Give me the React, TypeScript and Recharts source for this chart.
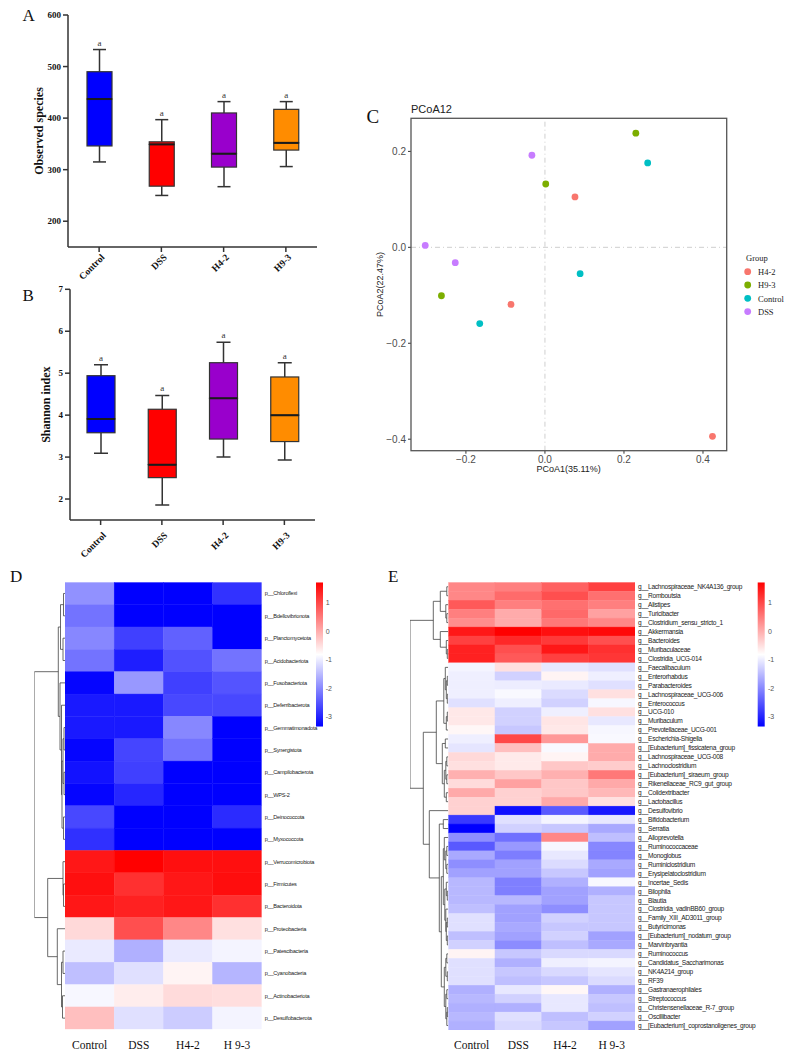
import React from 'react';
import {
  ComposedChart,
  ScatterChart,
  Bar,
  Cell,
  Scatter,
  XAxis,
  YAxis,
  LabelList,
  ReferenceLine,
} from 'recharts';

const serif = '"Liberation Serif", "Times New Roman", serif';
const sans = '"Liberation Sans", Arial, sans-serif';
const narrow = '"Liberation Sans Narrow", "Liberation Sans", Arial, sans-serif';
const ink = '#333';

// ---- A / B box plots ----
const groups = ['Control', 'DSS', 'H4-2', 'H9-3'];
const groupColors = ['#0000FF', '#FF0000', '#9900CC', '#FF8C00'];
const sigLetters = ['a', 'a', 'a', 'a'];

const obsMin = [315, 250, 267, 306];
const obsQ1 = [346, 268, 305, 338];
const obsMedian = [437, 349, 331, 352];
const obsQ3 = [490, 354, 410, 417];
const obsMax = [533, 397, 432, 432];
const obsTicks = [200, 300, 400, 500, 600];

const shanMin = [3.09, 1.86, 3.0, 2.93];
const shanQ1 = [3.58, 2.51, 3.43, 3.37];
const shanMedian = [3.91, 2.82, 4.4, 4.0];
const shanQ3 = [4.94, 4.14, 5.25, 4.91];
const shanMax = [5.2, 4.47, 5.74, 5.25];
const shanTicks = [2, 3, 4, 5, 6, 7];

// ---- C PCoA ----
const pcoaGroups = ['H4-2', 'H9-3', 'Control', 'DSS'];
const pcoaColors = ['#F8766D', '#7CAE00', '#00BFC4', '#C77CFF'];
const h42PC1 = [0.076, -0.086, 0.424];
const h42PC2 = [0.105, -0.119, -0.394];
const h93PC1 = [0.23, 0.002, -0.262];
const h93PC2 = [0.238, 0.132, -0.101];
const ctrlPC1 = [0.26, 0.089, -0.165];
const ctrlPC2 = [0.176, -0.055, -0.159];
const dssPC1 = [-0.033, -0.303, -0.227];
const dssPC2 = [0.192, 0.004, -0.032];
const pcoaX = [h42PC1, h93PC1, ctrlPC1, dssPC1];
const pcoaY = [h42PC2, h93PC2, ctrlPC2, dssPC2];
const pc1Ticks = [-0.2, 0, 0.2, 0.4];
const pc2Ticks = [-0.4, -0.2, 0, 0.2];
const pc1Range = [-0.339, 0.46];
const pc2Range = [-0.424, 0.269];

// ---- D / E heatmaps ----
const heatCols = ['Control', 'DSS', 'H4-2', 'H 9-3'];
const zMin = -3.34;
const zMid = -0.815;
const zMax = 1.71;
const colorTicks = [-3, -2, -1, 0, 1];

const phylumNames = [
  'p__Chloroflexi', 'p__Bdellovibrionota', 'p__Planctomycetota', 'p__Acidobacteriota',
  'p__Fusobacteriota', 'p__Deferribacterota', 'p__Gemmatimonadota', 'p__Synergistota',
  'p__Campilobacterota', 'p__WPS-2', 'p__Deinococcota', 'p__Myxococcota',
  'p__Verrucomicrobiota', 'p__Firmicutes', 'p__Bacteroidota', 'p__Proteobacteria',
  'p__Patescibacteria', 'p__Cyanobacteria', 'p__Actinobacteriota', 'p__Desulfobacterota',
];
const phylumZ = [
  [-1.9, -3.34, -3.34, -2.84],
  [-2.2, -3.34, -3.34, -3.34],
  [-2.0, -2.71, -2.38, -3.34],
  [-2.2, -3.04, -2.53, -2.2],
  [-3.29, -1.83, -2.71, -2.51],
  [-3.09, -3.09, -2.63, -2.63],
  [-3.09, -3.09, -2.0, -3.34],
  [-3.29, -2.66, -2.2, -3.34],
  [-3.16, -2.71, -3.34, -3.34],
  [-3.29, -2.96, -3.34, -3.34],
  [-2.63, -3.34, -3.34, -2.91],
  [-2.86, -3.34, -3.34, -3.34],
  [1.48, 1.71, 1.56, 1.56],
  [1.56, 1.23, 1.48, 1.58],
  [1.48, 1.38, 1.48, 1.23],
  [-0.44, 0.93, 0.37, -0.51],
  [-1.02, -1.6, -1.02, -0.92],
  [-1.45, -1.12, -0.71, -1.55],
  [-0.89, -0.64, -0.46, -0.49],
  [-0.18, -1.12, -1.32, -0.92],
];
// hclust-style merges: [left, right, height]; negative = row (1-based), positive = earlier merge
const phylumTree = [
  [-1, -2, 1.5], [-3, -4, 2.0], [1, 2, 4.5], [-7, -8, 1.0], [-9, -10, 1.0],
  [4, 5, 2.0], [-11, -12, 1.5], [6, 7, 3.0], [-6, 8, 3.5], [-5, 9, 5.0],
  [3, 10, 6.7], [-14, -15, 1.5], [-13, 12, 2.0], [-17, -18, 2.0], [-19, -20, 2.5],
  [14, 15, 3.5], [-16, 16, 7.7], [13, 17, 17.3], [11, 18, 30.7],
];

const genusNames = [
  'g__Lachnospiraceae_NK4A136_group', 'g__Romboutsia', 'g__Alistipes', 'g__Turicibacter',
  'g__Clostridium_sensu_stricto_1', 'g__Akkermansia', 'g__Bacteroides', 'g__Muribaculaceae',
  'g__Clostridia_UCG-014', 'g__Faecalibaculum', 'g__Enterorhabdus', 'g__Parabacteroides',
  'g__Lachnospiraceae_UCG-006', 'g__Enterococcus', 'g__UCG-010', 'g__Muribaculum',
  'g__Prevotellaceae_UCG-001', 'g__Escherichia-Shigella', 'g__[Eubacterium]_fissicatena_group',
  'g__Lachnospiraceae_UCG-008', 'g__Lachnoclostridium', 'g__[Eubacterium]_siraeum_group',
  'g__Rikenellaceae_RC9_gut_group', 'g__Colidextribacter', 'g__Lactobacillus', 'g__Desulfovibrio',
  'g__Bifidobacterium', 'g__Serratia', 'g__Alloprevotella', 'g__Ruminococcaceae', 'g__Monoglobus',
  'g__Ruminiclostridium', 'g__Erysipelatoclostridium', 'g__Incertae_Sedis', 'g__Bilophila',
  'g__Blautia', 'g__Clostridia_vadinBB60_group', 'g__Family_XIII_AD3011_group', 'g__Butyricimonas',
  'g__[Eubacterium]_nodatum_group', 'g__Marvinbryantia', 'g__Ruminococcus',
  'g__Candidatus_Saccharimonas', 'g__NK4A214_group', 'g__RF39', 'g__Gastranaerophilales',
  'g__Streptococcus', 'g__Christensenellaceae_R-7_group', 'g__Oscillibacter',
  'g__[Eubacterium]_coprostanoligenes_group',
];
const genusZ = [
  [0.37, 0.45, 0.75, 1.08],
  [0.37, 0.65, 0.93, 0.6],
  [0.83, 0.45, 0.6, 0.45],
  [0.45, 0.02, 0.67, 0.12],
  [0.3, 0.02, 0.52, 0.37],
  [1.48, 1.71, 1.56, 1.63],
  [1.08, 1.31, 1.15, 0.93],
  [1.38, 0.93, 1.48, 1.23],
  [1.38, 0.83, 1.08, 1.18],
  [-0.92, -0.51, -1.04, -1.12],
  [-0.97, -1.27, -0.71, -0.97],
  [-0.97, -0.99, -1.02, -1.12],
  [-0.97, -0.87, -1.17, -0.51],
  [-1.12, -0.97, -1.27, -0.89],
  [-0.59, -1.27, -0.97, -0.51],
  [-0.59, -1.27, -0.56, -1.04],
  [-0.74, -1.37, -0.59, -0.89],
  [-0.97, 1.0, 0.2, -0.87],
  [-1.07, -0.18, -0.87, 0.02],
  [-0.44, -0.61, -0.71, 0.02],
  [-0.51, -0.61, -0.26, -0.31],
  [-0.03, -0.26, -0.03, 0.52],
  [-0.46, 0.12, -0.26, 0.04],
  [0.04, -0.36, -0.26, -0.11],
  [-0.36, -0.36, 0.04, -0.51],
  [-0.36, -3.19, -2.46, -3.11],
  [-2.78, -1.12, -0.92, -1.04],
  [-3.34, -1.27, -1.37, -1.67],
  [-1.93, -2.23, 0.37, -1.45],
  [-2.46, -1.83, -0.89, -2.0],
  [-1.67, -2.1, -1.04, -2.03],
  [-1.93, -1.75, -1.17, -1.67],
  [-1.75, -1.75, -1.37, -1.75],
  [-1.52, -2.08, -1.6, -0.89],
  [-1.52, -2.08, -1.75, -1.6],
  [-1.52, -1.52, -1.75, -1.37],
  [-1.45, -1.75, -1.93, -1.37],
  [-1.12, -1.75, -1.27, -1.37],
  [-1.12, -1.67, -1.37, -1.37],
  [-1.45, -1.75, -1.27, -1.75],
  [-1.27, -1.95, -1.45, -1.67],
  [-0.71, -1.37, -1.19, -1.19],
  [-1.12, -1.6, -0.97, -0.92],
  [-1.12, -1.37, -1.19, -1.07],
  [-1.12, -1.45, -1.37, -1.17],
  [-1.6, -1.04, -0.74, -1.6],
  [-1.52, -1.27, -1.04, -1.37],
  [-1.6, -1.6, -1.04, -1.45],
  [-1.52, -1.12, -1.45, -1.27],
  [-1.6, -1.19, -1.37, -1.75],
];
const genusTree = [
  [-1, -2, 1.5], [-4, -5, 1.5], [-3, 2, 2.5], [1, 3, 8], [-8, -9, 1.0],
  [-7, 5, 2.0], [-6, 6, 8], [4, 7, 15], [-11, -12, 1.0], [-13, -14, 1.0],
  [9, 10, 2.0], [-10, 11, 3.0], [-15, -16, 1.0], [13, -17, 2.0], [12, 14, 4.5],
  [-18, -19, 3.0], [-20, -21, 1.5], [-22, -23, 1.5], [17, 18, 2.5], [-24, -25, 2.0],
  [19, 20, 4.0], [16, 21, 6.0], [15, 22, 12], [-27, -28, 5], [-30, -31, 1.5],
  [-32, -33, 1.5], [25, 26, 2.5], [-29, 27, 4], [-35, -36, 1.0], [-34, 29, 2.0],
  [-38, -39, 1.0], [-40, -41, 1.0], [31, 32, 2.0], [-37, 33, 2.5], [30, 34, 3.5],
  [28, 35, 5], [-42, -43, 1.5], [-44, -45, 1.0], [37, 38, 2.5], [-46, -47, 1.5],
  [-48, -49, 1.0], [41, -50, 1.5], [40, 42, 2.5], [39, 43, 4], [36, 44, 7],
  [24, 45, 9], [-26, 46, 19], [23, 47, 25], [8, 48, 38.3],
];

function zColor(v: number) {
  if (v <= zMid) {
    const t = Math.max(0, Math.min(1, (v - zMin) / (zMid - zMin)));
    const c = Math.round(255 * t);
    return `rgb(${c},${c},255)`;
  }
  const t = Math.max(0, Math.min(1, (v - zMid) / (zMax - zMid)));
  const c = Math.round(255 * (1 - t));
  return `rgb(255,${c},${c})`;
}

// each merge becomes one bracket: child1 -> join height -> child2
function treeBrackets(merges: number[][]) {
  const nodes: { h: number; y: number }[] = [];
  const at = (id: number) => (id < 0 ? { h: 0, y: -id - 0.5 } : nodes[id - 1]);
  return merges.map(([a, b, h]) => {
    const A = at(a);
    const B = at(b);
    nodes.push({ h, y: (A.y + B.y) / 2 });
    return [
      { h: A.h, y: A.y },
      { h, y: A.y },
      { h, y: B.y },
      { h: B.h, y: B.y },
    ];
  });
}

const noMark = () => <g />;

const whisker = (cap: number, atTop: boolean) => (p: any) => {
  const cx = p.x + p.width / 2;
  const yEnd = atTop ? p.y : p.y + p.height;
  return (
    <g>
      <line x1={cx} x2={cx} y1={p.y} y2={p.y + p.height} stroke={ink} strokeWidth={1.5} />
      <line x1={cx - cap / 2} x2={cx + cap / 2} y1={yEnd} y2={yEnd} stroke={ink} strokeWidth={1.5} />
    </g>
  );
};

const boxPart = (withMedian: boolean) => (p: any) => (
  <g>
    <rect x={p.x} y={p.y} width={p.width} height={p.height} fill={p.fill} stroke={ink} strokeWidth={1.2} />
    {withMedian && (
      <line x1={p.x} x2={p.x + p.width} y1={p.y + p.height} y2={p.y + p.height} stroke="#1a1a1a" strokeWidth={2} />
    )}
  </g>
);

function BoxPanel(props: any) {
  const {
    top, height, mins, q1s, meds, q3s, maxs, domain, ticks, title, titleX,
    plotTop, plotLeft, plotRight, xAxisHeight, boxWidth, capWidth, tickDy,
  } = props;
  const width = 330;
  const yAxisW = 40;
  const data = groups.map((g, i) => ({
    name: g,
    base: mins[i],
    lowW: q1s[i] - mins[i],
    lowBox: meds[i] - q1s[i],
    highBox: q3s[i] - meds[i],
    highW: maxs[i] - q3s[i],
    sig: sigLetters[i],
  }));
  const midY = plotTop + (height - plotTop - xAxisHeight) / 2;
  const SlantTick = (p: any) => (
    <text
      x={p.x + 6}
      y={p.y + tickDy}
      textAnchor="end"
      transform={`rotate(-45 ${p.x + 6} ${p.y + tickDy})`}
      fontFamily={serif}
      fontWeight="bold"
      fontSize={9.5}
      fill="#111"
    >
      {p.payload.value}
    </text>
  );
  return (
    <div style={{ position: 'absolute', left: 0, top }}>
      <ComposedChart
        width={width}
        height={height}
        data={data}
        barSize={boxWidth}
        margin={{ top: plotTop, right: width - plotRight, bottom: 0, left: plotLeft - yAxisW }}
      >
        <XAxis
          dataKey="name"
          interval={0}
          tickSize={5}
          height={xAxisHeight}
          axisLine={{ stroke: ink, strokeWidth: 1.5 }}
          tickLine={{ stroke: ink, strokeWidth: 1.5 }}
          tick={SlantTick}
        />
        <YAxis
          type="number"
          domain={domain}
          ticks={ticks}
          allowDataOverflow
          width={yAxisW}
          tickSize={5}
          axisLine={{ stroke: ink, strokeWidth: 1.5 }}
          tickLine={{ stroke: ink, strokeWidth: 1.5 }}
          tick={{ fontFamily: serif, fontWeight: 'bold', fontSize: 9, fill: '#111' }}
          label={() => (
            <text
              x={titleX}
              y={midY}
              dy="0.35em"
              textAnchor="middle"
              transform={`rotate(-90 ${titleX} ${midY})`}
              fontFamily={serif}
              fontWeight="bold"
              fontSize={12}
              fill="#111"
            >
              {title}
            </text>
          )}
        />
        <Bar dataKey="base" stackId="box" fill="transparent" isAnimationActive={false} />
        <Bar dataKey="lowW" stackId="box" shape={whisker(capWidth, false)} isAnimationActive={false} />
        <Bar dataKey="lowBox" stackId="box" shape={boxPart(false)} isAnimationActive={false}>
          {groups.map((g, i) => (
            <Cell key={g} fill={groupColors[i]} />
          ))}
        </Bar>
        <Bar dataKey="highBox" stackId="box" shape={boxPart(true)} isAnimationActive={false}>
          {groups.map((g, i) => (
            <Cell key={g} fill={groupColors[i]} />
          ))}
        </Bar>
        <Bar dataKey="highW" stackId="box" shape={whisker(capWidth, true)} isAnimationActive={false}>
          <LabelList dataKey="sig" position="top" offset={4} fill="#333" fontFamily={serif} fontSize={9} />
        </Bar>
      </ComposedChart>
    </div>
  );
}

function Dendrogram({ left, top, width, height, margin, merges, n }: any) {
  const maxH = merges[merges.length - 1][2];
  const brackets = treeBrackets(merges);
  return (
    <div style={{ position: 'absolute', left, top }}>
      <ScatterChart width={width} height={height} margin={margin}>
        <XAxis type="number" dataKey="h" domain={[0, maxH]} reversed hide allowDataOverflow />
        <YAxis type="number" dataKey="y" domain={[0, n]} reversed hide allowDataOverflow />
        {brackets.map((pts, k) => (
          <Scatter
            key={k}
            data={pts}
            line={{ stroke: '#444', strokeWidth: 0.8 }}
            lineType="joint"
            shape={noMark}
            isAnimationActive={false}
          />
        ))}
      </ScatterChart>
    </div>
  );
}

function Heatmap(props: any) {
  const {
    left, top, width, height, margin, names, values, labelSize, labelSpacing,
    yAxisWidth, xAxisHeight, colMargin,
  } = props;
  const n = names.length;
  const rowTicks = names.map((_: string, i: number) => i + 0.5);
  const colTicks = heatCols.map((_, j) => j + 0.5);
  const cells = values.flatMap((row: number[], i: number) =>
    row.map((v, j) => ({ x: j + 0.5, y: i + 0.5, z: v })),
  );
  const cellW = (width - margin.left - margin.right - yAxisWidth) / heatCols.length;
  const cellH = (height - margin.top - margin.bottom - xAxisHeight) / n;
  const cellShape = (p: any) => (
    <rect
      x={p.cx - cellW / 2}
      y={p.cy - cellH / 2}
      width={cellW}
      height={cellH}
      fill={p.fill}
      stroke={p.fill}
      strokeWidth={0.4}
    />
  );
  return (
    <div style={{ position: 'absolute', left, top }}>
      <ScatterChart width={width} height={height} margin={margin}>
        <XAxis
          type="number"
          dataKey="x"
          domain={[0, 4]}
          ticks={colTicks}
          interval={0}
          allowDataOverflow
          height={xAxisHeight}
          axisLine={false}
          tickLine={false}
          tickSize={0}
          tickMargin={colMargin}
          tickFormatter={(v: number) => heatCols[Math.floor(v)]}
          tick={{ fontFamily: serif, fontSize: 11.5, fill: '#111' }}
        />
        <YAxis
          type="number"
          dataKey="y"
          orientation="right"
          domain={[0, n]}
          reversed
          ticks={rowTicks}
          interval={0}
          allowDataOverflow
          width={yAxisWidth}
          axisLine={false}
          tickLine={false}
          tickSize={0}
          tickMargin={3}
          tickFormatter={(v: number) => names[Math.floor(v)]}
          tick={{ fontFamily: narrow, fontSize: labelSize, fill: '#222', letterSpacing: labelSpacing }}
        />
        <Scatter data={cells} shape={cellShape} isAnimationActive={false}>
          {cells.map((c: any, k: number) => (
            <Cell key={k} fill={zColor(c.z)} />
          ))}
        </Scatter>
      </ScatterChart>
    </div>
  );
}

function ColorBar({ left, top, width, height, margin, id, yAxisWidth }: any) {
  const midOffset = ((zMid - zMin) / (zMax - zMin)) * 100;
  const data = [{ name: 'z', range: [zMin, zMax] }];
  const barShape = (p: any) => (
    <g>
      <defs>
        <linearGradient id={id} x1="0" y1="1" x2="0" y2="0">
          <stop offset="0%" stopColor="#0000FF" />
          <stop offset={`${midOffset}%`} stopColor="#FFFFFF" />
          <stop offset="100%" stopColor="#FF0000" />
        </linearGradient>
      </defs>
      <rect x={p.x} y={p.y} width={p.width} height={p.height} fill={`url(#${id})`} />
    </g>
  );
  return (
    <div style={{ position: 'absolute', left, top }}>
      <ComposedChart width={width} height={height} margin={margin} data={data} barCategoryGap={0}>
        <XAxis dataKey="name" hide />
        <YAxis
          type="number"
          orientation="right"
          domain={[zMin, zMax]}
          ticks={colorTicks}
          interval={0}
          allowDataOverflow
          width={yAxisWidth}
          axisLine={false}
          tickLine={false}
          tickSize={0}
          tickMargin={3}
          tick={{ fontFamily: sans, fontSize: 7, fill: '#555' }}
        />
        <Bar dataKey="range" shape={barShape} isAnimationActive={false} />
      </ComposedChart>
    </div>
  );
}

const fmtPc = (v: number) => (v === 0 ? '0.0' : v < 0 ? `\u2212${Math.abs(v).toFixed(1)}` : v.toFixed(1));

const PCOA_LEFT = 330;
const PCOA_TOP = 90;
const PCOA_MARGIN = { top: 28.3, right: 3.3, bottom: 9.3, left: 51 };

function PcoaPanel() {
  return (
    <div style={{ position: 'absolute', left: PCOA_LEFT, top: PCOA_TOP }}>
      <ScatterChart width={400} height={400} margin={PCOA_MARGIN}>
        <XAxis
          type="number"
          dataKey="x"
          domain={pc1Range}
          ticks={pc1Ticks}
          height={30}
          axisLine={false}
          tickLine={{ stroke: '#333333' }}
          tickSize={3}
          tickMargin={2}
          tickFormatter={fmtPc}
          tick={{ fontFamily: sans, fontSize: 10, fill: '#4d4d4d' }}
          label={() => (
            <text x={238.6} y={379} dy="0.35em" textAnchor="middle" fontFamily={sans} fontSize={9} fill="#222">
              PCoA1(35.11%)
            </text>
          )}
        />
        <YAxis
          type="number"
          dataKey="y"
          domain={pc2Range}
          ticks={pc2Ticks}
          width={30}
          axisLine={false}
          tickLine={{ stroke: '#333333' }}
          tickSize={3}
          tickMargin={2}
          tickFormatter={fmtPc}
          tick={{ fontFamily: sans, fontSize: 10, fill: '#4d4d4d' }}
          label={() => (
            <text
              x={49.5}
              y={194.5}
              dy="0.35em"
              textAnchor="middle"
              transform="rotate(-90 49.5 194.5)"
              fontFamily={sans}
              fontSize={9}
              fill="#222"
            >
              PCoA2(22.47%)
            </text>
          )}
        />
        <ReferenceLine x={0} stroke="#cfcfcf" strokeWidth={1} strokeDasharray="5 3 1 3" />
        <ReferenceLine y={0} stroke="#cfcfcf" strokeWidth={1} strokeDasharray="5 3 1 3" />
        {pcoaGroups.map((g, k) => (
          <Scatter
            key={g}
            name={g}
            data={pcoaX[k].map((x, i) => ({ x, y: pcoaY[k][i] }))}
            fill={pcoaColors[k]}
            isAnimationActive={false}
            shape={(p: any) => <circle cx={p.cx} cy={p.cy} r={3.4} fill={pcoaColors[k]} />}
          />
        ))}
      </ScatterChart>
    </div>
  );
}

function Overlay() {
  // PCoA panel border follows the chart's plot area (container offset + margins)
  const fx = PCOA_LEFT + PCOA_MARGIN.left + 30;
  const fy = PCOA_TOP + PCOA_MARGIN.top;
  const fw = 400 - PCOA_MARGIN.left - 30 - PCOA_MARGIN.right;
  const fh = 400 - PCOA_MARGIN.top - PCOA_MARGIN.bottom - 30;
  return (
    <svg width={790} height={1058} style={{ position: 'absolute', left: 0, top: 0, pointerEvents: 'none' }}>
      <rect x={fx} y={fy} width={fw} height={fh} fill="none" stroke="#555" strokeWidth={1.3} />
      <g fontFamily={serif} fill="#111">
        <text x={22.5} y={20.7} fontSize={17}>A</text>
        <text x={22.5} y={300.7} fontSize={17}>B</text>
        <text x={366.5} y={123.3} fontSize={19}>C</text>
        <text x={10} y={581.7} fontSize={17}>D</text>
        <text x={388} y={581.7} fontSize={17}>E</text>
      </g>
      <text x={411} y={112.7} fontFamily={sans} fontSize={11} fill="#222">PCoA12</text>
      <text x={746} y={261} fontFamily={serif} fontSize={8.5} fill="#222">Group</text>
      {pcoaGroups.map((g, k) => {
        const cy = 271.7 + k * 13.3;
        return (
          <g key={g}>
            <circle cx={747.7} cy={cy} r={3.4} fill={pcoaColors[k]} />
            <text x={758} y={cy + 3.2} fontFamily={serif} fontSize={8.5} fill="#222">{g}</text>
          </g>
        );
      })}
    </svg>
  );
}

export default function App() {
  return (
    <div style={{ position: 'absolute', left: 0, top: 0, width: 790, height: 1058, background: '#fff', overflow: 'hidden' }}>
      <BoxPanel
        top={0}
        height={290}
        mins={obsMin}
        q1s={obsQ1}
        meds={obsMedian}
        q3s={obsQ3}
        maxs={obsMax}
        domain={[150, 600]}
        ticks={obsTicks}
        title="Observed species"
        titleX={39}
        plotTop={15}
        plotLeft={68}
        plotRight={317}
        xAxisHeight={43}
        boxWidth={25}
        capWidth={13}
        tickDy={4}
      />
      <BoxPanel
        top={270}
        height={300}
        mins={shanMin}
        q1s={shanQ1}
        meds={shanMedian}
        q3s={shanQ3}
        maxs={shanMax}
        domain={[1.5, 7]}
        ticks={shanTicks}
        title="Shannon index"
        titleX={46}
        plotTop={19.3}
        plotLeft={70}
        plotRight={315}
        xAxisHeight={50}
        boxWidth={28}
        capWidth={14}
        tickDy={9}
      />
      <PcoaPanel />
      <Dendrogram
        left={30}
        top={572}
        width={40}
        height={484}
        margin={{ top: 10.3, right: 5, bottom: 26.7, left: 4.3 }}
        merges={phylumTree}
        n={phylumNames.length}
      />
      <Heatmap
        left={55}
        top={572}
        width={290}
        height={484}
        margin={{ top: 10.3, right: 3.3, bottom: 0, left: 10 }}
        names={phylumNames}
        values={phylumZ}
        labelSize={5.6}
        labelSpacing={-0.25}
        yAxisWidth={80}
        xAxisHeight={26.7}
        colMargin={11.7}
      />
      <ColorBar
        left={310}
        top={575}
        width={40}
        height={160}
        margin={{ top: 7.3, right: 2.3, bottom: 8.3, left: 6 }}
        id="gradD"
        yAxisWidth={25}
      />
      <Dendrogram
        left={405}
        top={572}
        width={45}
        height={484}
        margin={{ top: 10.3, right: 1.7, bottom: 26, left: 5 }}
        merges={genusTree}
        n={genusNames.length}
      />
      <Heatmap
        left={440}
        top={572}
        width={350}
        height={484}
        margin={{ top: 10.3, right: 35, bottom: 0, left: 8.3 }}
        names={genusNames}
        values={genusZ}
        labelSize={6.6}
        labelSpacing={-0.3}
        yAxisWidth={120}
        xAxisHeight={26}
        colMargin={10.8}
      />
      <ColorBar
        left={752}
        top={575}
        width={38}
        height={160}
        margin={{ top: 7.3, right: 3, bottom: 8.3, left: 5.7 }}
        id="gradE"
        yAxisWidth={22}
      />
      <Overlay />
    </div>
  );
}
